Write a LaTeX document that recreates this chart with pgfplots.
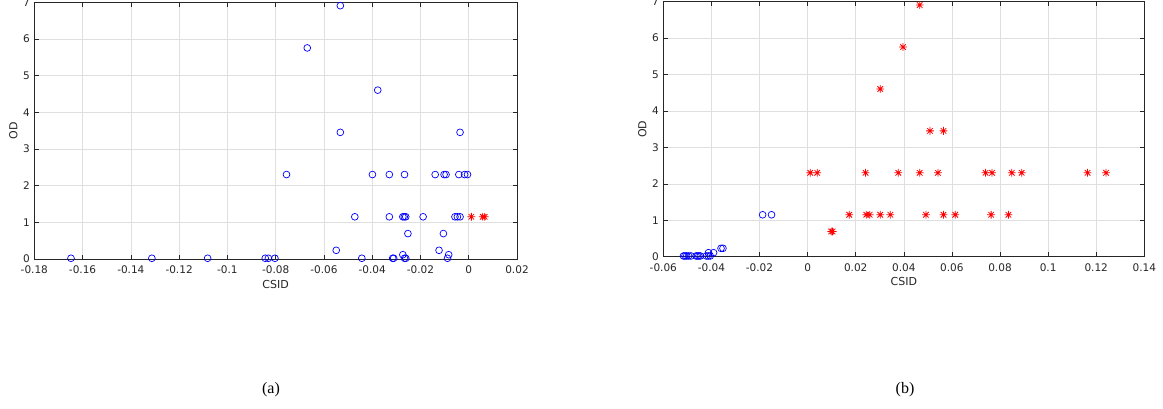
\documentclass[border=0pt]{standalone}
\usepackage{fontspec}
\setmainfont{DejaVu Sans}
\newfontfamily\capfont{Liberation Serif}
\usepackage{pgfplots}
\pgfplotsset{compat=1.18}
\definecolor{mBlue}{RGB}{0,0,255}
\definecolor{mRed}{RGB}{255,0,0}
\definecolor{mAx}{HTML}{262626}
\definecolor{mGrid}{HTML}{DFDFDF}

% MATLAB-like '*' marker: plus and cross overlaid
\pgfdeclareplotmark{mstar}{%
  \pgfpathmoveto{\pgfqpoint{-\pgfplotmarksize}{0pt}}%
  \pgfpathlineto{\pgfqpoint{\pgfplotmarksize}{0pt}}%
  \pgfpathmoveto{\pgfqpoint{0pt}{-\pgfplotmarksize}}%
  \pgfpathlineto{\pgfqpoint{0pt}{\pgfplotmarksize}}%
  \pgfpathmoveto{\pgfqpoint{-0.707\pgfplotmarksize}{-0.707\pgfplotmarksize}}%
  \pgfpathlineto{\pgfqpoint{0.707\pgfplotmarksize}{0.707\pgfplotmarksize}}%
  \pgfpathmoveto{\pgfqpoint{-0.707\pgfplotmarksize}{0.707\pgfplotmarksize}}%
  \pgfpathlineto{\pgfqpoint{0.707\pgfplotmarksize}{-0.707\pgfplotmarksize}}%
  \pgfusepathqstroke}

\pgfplotsset{
  mlab/.style={
    scale only axis, anchor=south west, clip=false,
    ymin=0, ymax=7, ytick={0,...,7},
    grid=major, major grid style={draw=mGrid, line width=0.5pt},
    axis line style={draw=mAx, line width=0.6pt},
    tick style={draw=mAx, line width=0.6pt},
    major tick length=4.5pt, tick align=inside,
    tick label style={font=\fontsize{10.5}{12}\selectfont, color=mAx},
    x tick label style={yshift=-3.5pt},
    y tick label style={xshift=-1pt},
    label style={font=\fontsize{11}{12}\selectfont, color=mAx},
    xlabel={CSID}, ylabel={OD},
    xlabel style={at={(axis description cs:0.5,0)}, anchor=center, yshift=-25pt},
    ylabel style={at={(axis description cs:0,0.5)}, anchor=center, yshift=21pt},
  },
  bo/.style={only marks, mark=o, mark size=3.4pt, draw=mBlue, mark options={line width=0.7pt}},
  rs/.style={only marks, mark=mstar, mark size=3.9pt, draw=mRed, mark options={line width=0.8pt}},
}

\begin{document}
\begin{tikzpicture}[x=1pt,y=1pt]
\path[use as bounding box] (0,0) rectangle (1163,408);

% (a)
\begin{axis}[mlab, at={(34.3pt,149pt)}, width=482.7pt, height=256.7pt,
  xmin=-0.18, xmax=0.02,
  xtick={-0.18,-0.16,-0.14,-0.12,-0.1,-0.08,-0.06,-0.04,-0.02,0,0.02},
  xticklabels={-0.18,-0.16,-0.14,-0.12,-0.1,-0.08,-0.06,-0.04,-0.02,0,0.02},
  yticklabels={0,1,2,3,4,5,6,7}]
  \addplot[bo] coordinates {
    (-0.1648,0.02) (-0.1313,0.02) (-0.1082,0.02) (-0.0843,0.02) (-0.0830,0.02)
    (-0.0803,0.02) (-0.0443,0.02) (-0.0315,0.02) (-0.0311,0.02) (-0.0266,0.02)
    (-0.0261,0.02) (-0.0088,0.02)
    (-0.0273,0.117) (-0.0083,0.117)
    (-0.0549,0.237) (-0.0123,0.237)
    (-0.0252,0.693) (-0.0105,0.693)
    (-0.0472,1.151) (-0.0329,1.151) (-0.0273,1.151) (-0.0267,1.151) (-0.0261,1.151)
    (-0.0189,1.151) (-0.0057,1.151) (-0.0047,1.151) (-0.0036,1.151)
    (-0.0755,2.303) (-0.0399,2.303) (-0.0329,2.303) (-0.0266,2.303) (-0.0139,2.303)
    (-0.0102,2.303) (-0.0094,2.303) (-0.0041,2.303) (-0.0017,2.303) (-0.0005,2.303)
    (-0.0532,3.454) (-0.0036,3.454)
    (-0.0377,4.605)
    (-0.0669,5.756)
    (-0.0532,6.908)
  };
  \addplot[rs] coordinates {(0.0011,1.151) (0.0058,1.151) (0.0066,1.151)};
\end{axis}

% (b)
\begin{axis}[mlab, at={(663.3pt,151.3pt)}, width=481pt, height=255pt,
  xmin=-0.06, xmax=0.14,
  xtick={-0.06,-0.04,-0.02,0,0.02,0.04,0.06,0.08,0.1,0.12,0.14},
  xticklabels={-0.06,-0.04,-0.02,0,0.02,0.04,0.06,0.08,0.1,0.12,0.14},
  yticklabels={0,1,2,3,4,5,6,7}]
  \addplot[bo] coordinates {
    (-0.0516,0.02) (-0.0510,0.02) (-0.0503,0.02) (-0.0495,0.02) (-0.0485,0.02)
    (-0.0464,0.02) (-0.0458,0.02) (-0.0452,0.02) (-0.0446,0.02) (-0.0421,0.02)
    (-0.0413,0.02) (-0.0405,0.02)
    (-0.0412,0.11) (-0.0391,0.11)
    (-0.0360,0.23) (-0.0352,0.23)
    (-0.0187,1.151) (-0.0150,1.151)
  };
  \addplot[rs] coordinates {
    (0.0098,0.693) (0.0104,0.693)
    (0.0173,1.151) (0.0244,1.151) (0.0258,1.151) (0.0302,1.151) (0.0344,1.151)
    (0.0492,1.151) (0.0565,1.151) (0.0614,1.151) (0.0763,1.151) (0.0835,1.151)
    (0.0011,2.303) (0.0040,2.303) (0.0241,2.303) (0.0377,2.303) (0.0466,2.303)
    (0.0542,2.303) (0.0740,2.303) (0.0767,2.303) (0.0849,2.303) (0.0890,2.303)
    (0.1164,2.303) (0.1241,2.303)
    (0.0509,3.454) (0.0565,3.454)
    (0.0302,4.605)
    (0.0397,5.756)
    (0.0466,6.908)
  };
\end{axis}

\node[font=\capfont\fontsize{16}{18}\selectfont] at (271,18) {(a)};
\node[font=\capfont\fontsize{16}{18}\selectfont] at (905,18) {(b)};
\end{tikzpicture}
\end{document}
